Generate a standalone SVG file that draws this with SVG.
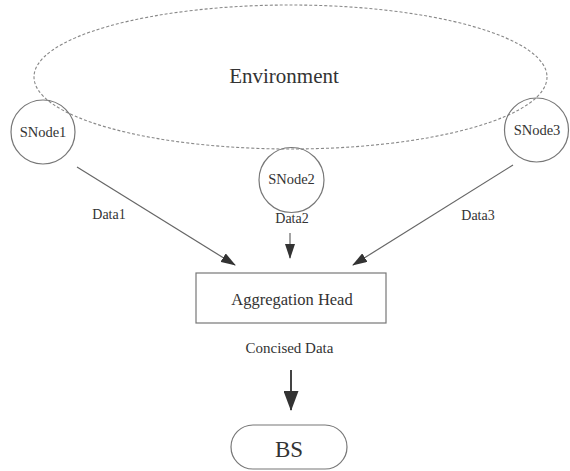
<svg xmlns="http://www.w3.org/2000/svg" width="570" height="471" viewBox="0 0 570 471">
  <style>
    text { font-family: "Liberation Serif", "Times New Roman", serif; fill: #333; text-anchor: middle; }
    .node { fill: none; stroke: #777; stroke-width: 1.2; }
    .env { fill: none; stroke: #888; stroke-width: 1.1; stroke-dasharray: 3 2; }
    .edge { stroke: #666; stroke-width: 1.2; fill: none; marker-end: url(#head); }
    .thick { stroke: #444; stroke-width: 2; fill: none; marker-end: url(#headBig); }
    .lbl { font-size: 14px; }
    .name { font-size: 14.5px; }
  </style>
  <defs>
    <marker id="head" markerWidth="15" markerHeight="10" refX="14" refY="5" orient="auto" markerUnits="userSpaceOnUse">
      <path d="M0,0 L15,5 L0,10 Z" fill="#333"/>
    </marker>
    <marker id="headBig" markerWidth="20" markerHeight="15" refX="19" refY="7.5" orient="auto" markerUnits="userSpaceOnUse">
      <path d="M0,0 L20,7.5 L0,15 Z" fill="#333"/>
    </marker>
  </defs>
  <rect width="570" height="471" fill="#fff"/>

  <g id="environment">
    <ellipse class="env" cx="290.5" cy="77" rx="256.5" ry="72"/>
    <text x="284" y="83" font-size="21">Environment</text>
  </g>

  <g id="connectors">
    <line class="edge" x1="77" y1="167" x2="235" y2="265"/>
    <line class="edge" x1="290" y1="233" x2="290" y2="258"/>
    <line class="edge" x1="513" y1="165" x2="353" y2="265"/>
    <line class="thick" x1="291" y1="370" x2="291" y2="410"/>
    <text class="lbl" x="109" y="219">Data1</text>
    <text class="lbl" x="292" y="223">Data2</text>
    <text class="lbl" x="478" y="220">Data3</text>
    <text x="289.5" y="353" font-size="15">Concised Data</text>
  </g>

  <g id="snode1">
    <circle class="node" cx="43" cy="132" r="32"/>
    <text class="name" x="43" y="137">SNode1</text>
  </g>
  <g id="snode2">
    <circle class="node" cx="291.5" cy="180" r="32.5"/>
    <text class="name" x="291.5" y="184">SNode2</text>
  </g>
  <g id="snode3">
    <circle class="node" cx="536.5" cy="130" r="32"/>
    <text class="name" x="537" y="135">SNode3</text>
  </g>

  <g id="aggregation-head">
    <rect class="node" x="196" y="273" width="190" height="50"/>
    <text x="292" y="305" font-size="16.5">Aggregation Head</text>
  </g>

  <g id="bs">
    <rect class="node" x="231" y="425" width="116" height="44" rx="22"/>
    <text x="289" y="457" font-size="23">BS</text>
  </g>
</svg>
